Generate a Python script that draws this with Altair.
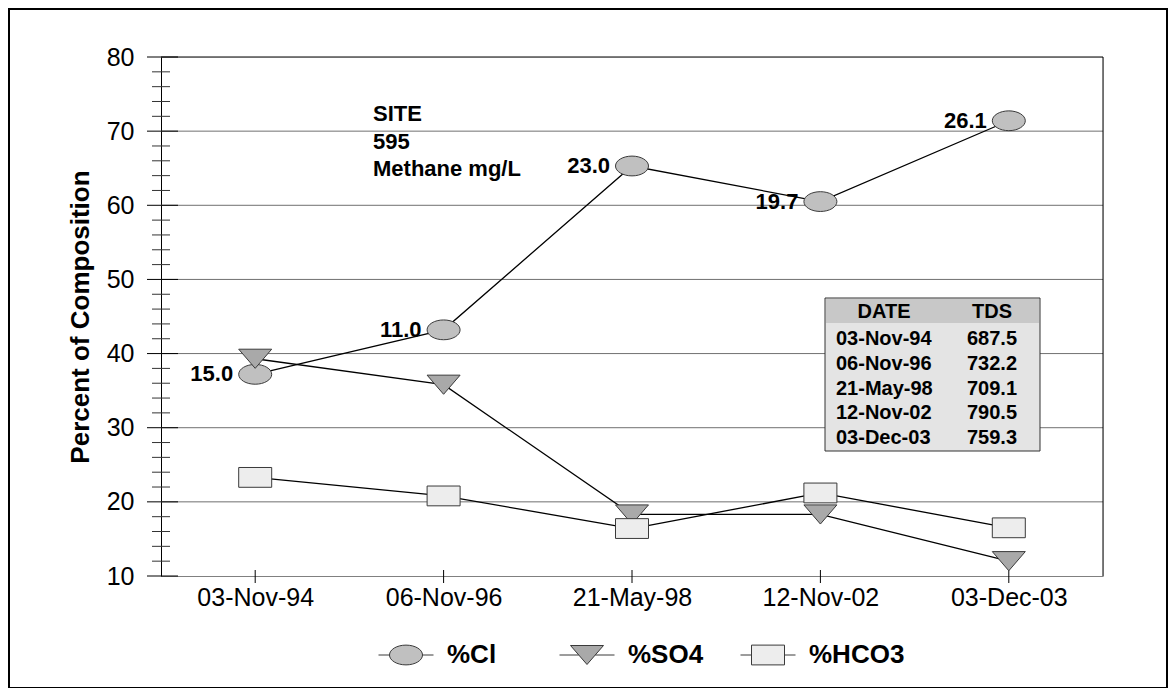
import altair as alt
import pandas as pd

# ---- data ----
dates = ["03-Nov-94", "06-Nov-96", "21-May-98", "12-Nov-02", "03-Dec-03"]
series = ["%Cl", "%SO4", "%HCO3"]
cl = [37.2, 43.2, 65.3, 60.5, 71.4]
so4 = [39.3, 35.8, 18.3, 18.3, 12.0]
hco3 = [23.3, 20.8, 16.4, 21.2, 16.5]
methane = ["15.0", "11.0", "23.0", "19.7", "26.1"]
table_dates = ["03-Nov-94", "06-Nov-96", "21-May-98", "12-Nov-02", "03-Dec-03"]
tds = ["687.5", "732.2", "709.1", "790.5", "759.3"]
site_text = ["SITE", "595", "Methane mg/L"]
major_ticks = [10, 20, 30, 40, 50, 60, 70, 80]
minor_ticks = [v for v in range(10, 81, 2) if v % 10 != 0]
grid_vals = [20, 30, 40, 50, 60, 70]

FONT = "Liberation Sans"
W, H = 942, 519

rows = []
for s, vals in zip(series, [cl, so4, hco3]):
    for d, v in zip(dates, vals):
        rows.append({"date": d, "series": s, "value": v})
df = pd.DataFrame(rows)
df_cl = pd.DataFrame({"date": dates, "value": cl, "label": methane})
one = pd.DataFrame({"k": [0]})

fills = ["#c0c0c0", "#a9a9a9", "#ededed"]
strokes = ["#3a3a3a", "#3a3a3a", "#3a3a3a"]
marker_paths = [
    "M-1,0A1,0.6,0,1,0,1,0A1,0.6,0,1,0,-1,0Z",
    "M-1,-0.58L1,-0.58L0,0.58Z",
    "M-1,-0.6L1,-0.6L1,0.6L-1,0.6Z",
]
legend_paths = [
    "M-1,0L-0.6,0M0.6,0L1,0M-0.6,0A0.6,0.36,0,1,0,0.6,0A0.6,0.36,0,1,0,-0.6,0Z",
    "M-1,0L-0.3,0M0.3,0L1,0M-0.6,-0.345L0.6,-0.345L0,0.345Z",
    "M-1,0L-0.6,0M0.6,0L1,0M-0.6,-0.36L0.6,-0.36L0.6,0.36L-0.6,0.36Z",
]

xscale = alt.Scale(type="point", domain=dates, padding=0.5)
yscale = alt.Scale(domain=[10, 80], nice=False, zero=False)

X = alt.X("date:N", scale=xscale, sort=dates,
          axis=alt.Axis(title=None, labelAngle=0, labelFontSize=25, labelFont=FONT,
                        labelColor="black", ticks=False, labelPadding=9,
                        domainColor="#808080", grid=False))
Y = alt.Y("value:Q", scale=yscale,
          axis=alt.Axis(title="Percent of Composition", values=major_ticks, ticks=False,
                        labelPadding=27, labelFontSize=25, labelFont=FONT, labelColor="black",
                        titleFontSize=26, titleFont=FONT, titleFontWeight="bold",
                        titleColor="black", titlePadding=13, grid=False,
                        domainColor="black"))

grid = alt.Chart(pd.DataFrame({"value": grid_vals})).mark_rule(
    color="#707070", strokeWidth=1).encode(y=Y, x=alt.value(0), x2=alt.value(W))

ymaj = alt.Chart(pd.DataFrame({"value": major_ticks})).mark_rule(
    color="black", strokeWidth=1).encode(y=Y, x=alt.value(-14), x2=alt.value(17))
ymin = alt.Chart(pd.DataFrame({"value": minor_ticks})).mark_rule(
    color="#333333", strokeWidth=1).encode(y=Y, x=alt.value(-9), x2=alt.value(9))

xt = alt.Chart(pd.DataFrame({"date": dates})).mark_rule(
    color="black", strokeWidth=1).encode(x=X, y=alt.value(H - 6), y2=alt.value(H + 7))

frame_top = alt.Chart(one).mark_rule(color="black", strokeWidth=1).encode(
    x=alt.value(0), x2=alt.value(W), y=alt.value(0))
frame_right = alt.Chart(one).mark_rule(color="black", strokeWidth=1).encode(
    x=alt.value(W), y=alt.value(0), y2=alt.value(H))

lines = alt.Chart(df).mark_line(color="black", strokeWidth=1.3).encode(
    x=X, y=Y, detail="series:N")

points = alt.Chart(df).mark_point(filled=True, stroke="#3a3a3a", strokeWidth=1, opacity=1).encode(
    x=X, y=Y,
    shape=alt.Shape("series:N", scale=alt.Scale(domain=series, range=marker_paths), legend=None),
    fill=alt.Fill("series:N", scale=alt.Scale(domain=series, range=fills), legend=None),
    size=alt.value(1089),
)

labels = alt.Chart(df_cl).mark_text(
    align="right", baseline="middle", dx=-22, fontSize=22, fontWeight="bold",
    font=FONT, color="black").encode(x=X, y=Y, text="label:N")

site = alt.Chart(one).mark_text(
    align="left", baseline="alphabetic", fontSize=22, fontWeight="bold", font=FONT,
    color="black", lineHeight=27.5, text=site_text).encode(
    x=alt.value(212), y=alt.value(64))

# TDS table
tbl_body = alt.Chart(one).mark_rect(fill="#e4e4e4", stroke="#333333", strokeWidth=1).encode(
    x=alt.value(664), x2=alt.value(879), y=alt.value(241), y2=alt.value(394))
tbl_head = alt.Chart(one).mark_rect(fill="#c8c8c8").encode(
    x=alt.value(665), x2=alt.value(878), y=alt.value(242), y2=alt.value(266))
tbl_h1 = alt.Chart(one).mark_text(align="center", baseline="middle", fontSize=20,
                                   fontWeight="bold", font=FONT, color="black",
                                   text="DATE").encode(x=alt.value(723), y=alt.value(255))
tbl_h2 = alt.Chart(one).mark_text(align="center", baseline="middle", fontSize=20,
                                   fontWeight="bold", font=FONT, color="black",
                                   text="TDS").encode(x=alt.value(831), y=alt.value(255))
tbl_c1 = alt.Chart(one).mark_text(align="left", baseline="alphabetic", fontSize=20,
                                   fontWeight="bold", font=FONT, color="black",
                                   lineHeight=24.75, text=table_dates).encode(
    x=alt.value(675), y=alt.value(288))
tbl_c2 = alt.Chart(one).mark_text(align="left", baseline="alphabetic", fontSize=20,
                                   fontWeight="bold", font=FONT, color="black",
                                   lineHeight=24.75, text=tds).encode(
    x=alt.value(806), y=alt.value(288))

border = alt.Chart(one).mark_rect(fill=None, stroke="black", strokeWidth=2).encode(
    x=alt.value(-152), x2=alt.value(1006), y=alt.value(-48), y2=alt.value(631))

leg_def = dict(title=None, orient="none", legendX=217, legendY=570, direction="horizontal",
               columns=3, gridAlign="all", columnPadding=14, symbolSize=3025,
               labelFontSize=26, labelFontWeight="bold", labelFont=FONT, labelColor="black",
               labelOffset=13, padding=0, labelLimit=0,
               symbolStrokeColor="#3a3a3a", symbolStrokeWidth=1)
legend_layer = alt.Chart(df).transform_filter("false").mark_point(
    filled=True, strokeWidth=1, opacity=1).encode(
    x=X, y=Y,
    shape=alt.Shape("series:N", scale=alt.Scale(domain=series, range=legend_paths),
                    legend=alt.Legend(**leg_def)),
    fill=alt.Fill("series:N", scale=alt.Scale(domain=series, range=fills),
                  legend=alt.Legend(**leg_def)),
    stroke=alt.Stroke("series:N", scale=alt.Scale(domain=series, range=strokes),
                      legend=alt.Legend(**leg_def)),
)

chart = alt.layer(
    grid, ymin, ymaj, xt, frame_top, frame_right, lines, points, labels, site,
    tbl_body, tbl_head, tbl_h1, tbl_h2, tbl_c1, tbl_c2, border, legend_layer
).resolve_scale(shape="independent", fill="independent", stroke="independent").properties(
    width=W, height=H,
    autosize=alt.AutoSizeParams(type="none"),
    padding={"left": 153, "top": 49, "right": 65, "bottom": 112},
).configure_view(stroke=None).configure(background="white")

chart.save("out.html", embed_options={"renderer": "svg", "actions": False})
